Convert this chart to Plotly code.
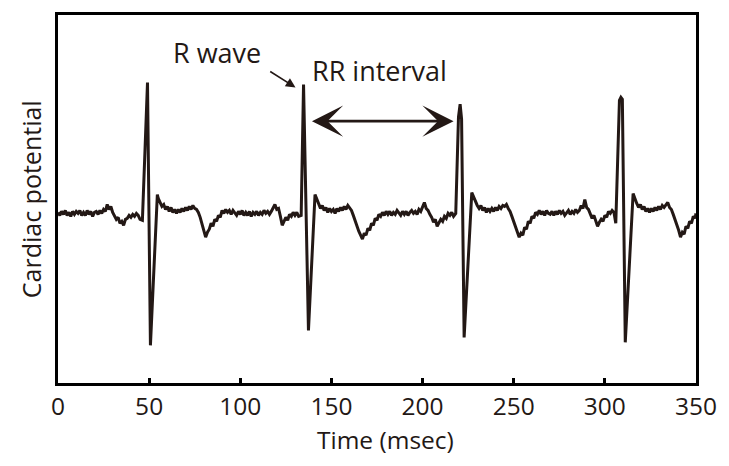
import plotly.graph_objects as go

# ---- data (time in ms, potential in arbitrary units) ----
time_ms = [
    0, 1, 2, 3, 4, 5, 6, 7, 8, 9,
    10, 11, 12, 13, 14, 15, 16, 17, 18, 19,
    20, 21, 22, 23, 24, 25, 26, 27, 28, 29,
    30, 31, 32, 33, 34, 35, 36, 37, 38, 39,
    40, 41, 42, 43, 44, 45, 46.3,
    49.1, 50.7, 54.5,
    55, 56, 57, 58, 59, 60, 61, 62, 63, 64,
    65, 66, 67, 68, 69, 70, 71, 72, 73, 74,
    75, 76, 77, 78, 79, 80, 81, 82, 83, 84,
    85, 86, 87, 88, 89, 90, 91, 92, 93, 94,
    95, 96, 97, 98, 99, 100, 101, 102, 103, 104,
    105, 106, 107, 108, 109, 110, 111, 112, 113, 114,
    115, 116, 117, 118, 119, 120, 121, 122, 123, 124,
    125, 126, 127, 128, 129, 130, 131, 132, 133.4,
    134.7, 137.4, 141.0,
    142, 143, 144, 145, 146, 147, 148, 149, 150, 151,
    152, 153, 154, 155, 156, 157, 158, 159, 160, 161,
    162, 163, 164, 165, 166, 167, 168, 169, 170, 171,
    172, 173, 174, 175, 176, 177, 178, 179, 180, 181,
    182, 183, 184, 185, 186, 187, 188, 189, 190, 191,
    192, 193, 194, 195, 196, 197, 198, 199, 200, 201,
    202, 203, 204, 205, 206, 207, 208, 209, 210, 211,
    212, 213, 214, 215, 216, 217, 218.2,
    219.7, 220.6, 221.4, 222.8, 227.0,
    228, 229, 230, 231, 232, 233, 234, 235, 236, 237,
    238, 239, 240, 241, 242, 243, 244, 245, 246, 247,
    248, 249, 250, 251, 252, 253, 254, 255, 256, 257,
    258, 259, 260, 261, 262, 263, 264, 265, 266, 267,
    268, 269, 270, 271, 272, 273, 274, 275, 276, 277,
    278, 279, 280, 281, 282, 283, 284, 285, 286, 287,
    288, 289, 290, 291, 292, 293, 294, 295, 296, 297,
    298, 299, 300, 301, 302, 303, 304, 305, 305.6, 306.0,
    308.0, 308.8, 309.6, 311.2, 315.5,
    316.5, 317.5, 318.5, 319.5, 320.5, 321.5, 322.5, 323.5, 324.5, 325.5,
    326.5, 327.5, 328.5, 329.5, 330.5, 331.5, 332.5, 333.5, 334.5, 335.5,
    336.5, 337.5, 338.5, 339.5, 340.5, 341.5, 342.5, 343.5, 344.5, 345.5,
    346.5, 347.5, 348.5, 349.5, 350,
]
potential = [
    0.01, -0.02, 0.02, -0.01, 0.03, -0.02, 0.01, -0.03, 0.02, -0.01,
    0.02, 0.00, 0.03, -0.02, 0.01, -0.02, 0.03, -0.01, 0.02, -0.03,
    0.01, 0.02, -0.01, 0.03, 0.00, 0.04, 0.02, 0.09, 0.04, 0.07,
    0.01, -0.02, -0.06, -0.04, -0.10, -0.08, -0.12, -0.06, -0.05, -0.02,
    -0.04, -0.01, -0.03, 0.00, -0.02, -0.06, -0.07,
    1.32, -1.33, 0.19,
    0.15, 0.11, 0.07, 0.09, 0.04, 0.07, 0.02, 0.06, 0.01, 0.04,
    0.00, 0.04, 0.01, 0.05, 0.02, 0.06, 0.03, 0.07, 0.04, 0.08,
    0.05, 0.04, 0.01, -0.04, -0.10, -0.16, -0.24, -0.19, -0.16, -0.10,
    -0.13, -0.06, -0.08, -0.02, -0.04, 0.03, 0.00, 0.04, 0.01, 0.03,
    -0.01, 0.03, 0.00, -0.02, 0.02, -0.01, 0.03, -0.02, 0.01, -0.02,
    0.02, -0.03, 0.01, -0.01, 0.02, -0.02, 0.01, -0.01, 0.03, 0.00,
    0.02, -0.01, 0.02, 0.06, 0.09, 0.04, 0.05, -0.03, -0.12, -0.08,
    -0.04, -0.07, -0.01, -0.03, 0.01, -0.02, 0.01, -0.03, -0.02,
    1.30, -1.18, 0.19,
    0.14, 0.09, 0.05, 0.08, 0.03, 0.06, 0.01, 0.05, 0.02, 0.04,
    0.00, 0.05, 0.02, 0.06, 0.03, 0.07, 0.04, 0.08, 0.06, 0.03,
    -0.02, -0.08, -0.12, -0.18, -0.22, -0.26, -0.20, -0.22, -0.15, -0.17,
    -0.10, -0.12, -0.05, -0.07, -0.01, -0.03, 0.01, -0.02, 0.02, -0.01,
    0.02, -0.02, 0.01, -0.01, 0.03, 0.00, -0.02, 0.02, -0.01, 0.02,
    -0.02, 0.01, 0.03, 0.00, 0.02, -0.01, 0.04, 0.02, 0.06, 0.11,
    0.05, 0.03, -0.01, -0.04, -0.09, -0.06, -0.13, -0.09, -0.06, -0.08,
    -0.03, -0.05, 0.00, -0.02, 0.01, -0.03, 0.00,
    0.97, 1.10, 0.95, -1.25, 0.21,
    0.16, 0.11, 0.08, 0.05, 0.08, 0.03, 0.06, 0.01, 0.05, 0.02,
    0.05, 0.02, 0.06, 0.03, 0.07, 0.05, 0.08, 0.07, 0.09, 0.05,
    0.02, -0.03, -0.08, -0.13, -0.18, -0.24, -0.20, -0.22, -0.14, -0.16,
    -0.08, -0.10, -0.03, -0.05, 0.01, -0.01, 0.03, -0.01, 0.02, -0.02,
    0.03, 0.00, -0.01, 0.02, -0.02, 0.02, -0.01, 0.03, 0.00, 0.02,
    -0.02, 0.01, 0.03, -0.01, 0.02, 0.00, 0.04, 0.01, 0.03, 0.08,
    0.05, 0.14, 0.06, 0.04, -0.01, -0.05, -0.02, -0.08, -0.13, -0.09,
    -0.06, -0.08, -0.02, -0.04, 0.02, 0.00, 0.03, 0.01, -0.08, -0.10,
    1.14, 1.17, 1.15, -1.30, 0.20,
    0.14, 0.10, 0.06, 0.09, 0.04, 0.07, 0.02, 0.05, 0.01, 0.05,
    0.02, 0.06, 0.03, 0.07, 0.04, 0.08, 0.06, 0.09, 0.11, 0.06,
    0.04, -0.01, -0.06, -0.11, -0.17, -0.24, -0.19, -0.21, -0.13, -0.15,
    -0.08, -0.10, -0.03, -0.05, 0.00,
]
assert len(time_ms) == len(potential)

r_peak_times = [49.1, 134.7, 220.6, 308.8]
r_peak_values = [1.32, 1.30, 1.10, 1.17]
x_ticks = [0, 50, 100, 150, 200, 250, 300, 350]

FONT = "Open Sans"
FS = 27
INK = "#231815"

fig = go.Figure()
fig.add_trace(go.Scatter(
    x=time_ms, y=potential, mode="lines",
    line=dict(color=INK, width=3.0, shape="linear"),
    hoverinfo="skip", showlegend=False,
))

# "R wave" label with arrow pointing to the 2nd R peak
fig.add_annotation(
    x=r_peak_times[1] - 4.4, y=r_peak_values[1] - 0.03, xref="x", yref="y",
    ax=r_peak_times[1] - 19.1, ay=r_peak_values[1] + 0.14, axref="x", ayref="y",
    showarrow=True, arrowhead=2, arrowsize=1.2, arrowwidth=1.6, arrowcolor=INK, text="",
)
fig.add_annotation(
    x=r_peak_times[1] - 47.5, y=r_peak_values[1] + 0.32, xref="x", yref="y",
    text="R wave", showarrow=False, font=dict(family=FONT, size=FS, color=INK),
    xanchor="center", yanchor="middle",
)
# RR interval double arrow
fig.add_annotation(
    x=r_peak_times[2] - 3.6, y=0.93, xref="x", yref="y",
    ax=r_peak_times[1] + 3.8, ay=0.93, axref="x", ayref="y",
    showarrow=True, arrowhead=3, startarrowhead=3, arrowside="end+start",
    arrowsize=2.0, startarrowsize=2.0, arrowwidth=2.6, arrowcolor=INK, text="",
)
fig.add_annotation(
    x=(r_peak_times[1] + r_peak_times[2]) / 2 - 1.5, y=1.44, xref="x", yref="y",
    text="RR interval", showarrow=False, font=dict(family=FONT, size=FS, color=INK),
    xanchor="center", yanchor="middle",
)
# axis titles
fig.add_annotation(
    x=-0.042, y=0.5, xref="paper", yref="paper", text="Cardiac potential", textangle=-90,
    showarrow=False, font=dict(family=FONT, size=25, color=INK), xanchor="center", yanchor="middle",
)
fig.add_annotation(
    x=0.514, y=-0.154, xref="paper", yref="paper", text="Time (msec)", borderpad=0,
    showarrow=False, font=dict(family=FONT, size=24.5, color=INK), xanchor="center", yanchor="middle",
)

fig.update_layout(
    width=713, height=450,
    margin=dict(l=50, r=21, t=4, b=75),
    paper_bgcolor="white", plot_bgcolor="white",
    font=dict(family=FONT, size=FS, color=INK),
    showlegend=False,
)
fig.update_xaxes(
    range=[0, 350], tickvals=x_ticks, ticktext=[str(v) for v in x_ticks],
    ticks="inside", ticklen=5, tickwidth=2.5, tickcolor="black",
    ticklabelstandoff=0, ticklabeloverflow="allow",
    showline=True, linewidth=3, linecolor="black", mirror=True,
    showgrid=False, zeroline=False,
    tickfont=dict(family=FONT, size=24.5, color=INK),
)
fig.update_yaxes(
    range=[-1.71, 2.0], showticklabels=False, ticks="",
    showline=True, linewidth=3, linecolor="black", mirror=True,
    showgrid=False, zeroline=False,
)

fig.write_html("out.html")
